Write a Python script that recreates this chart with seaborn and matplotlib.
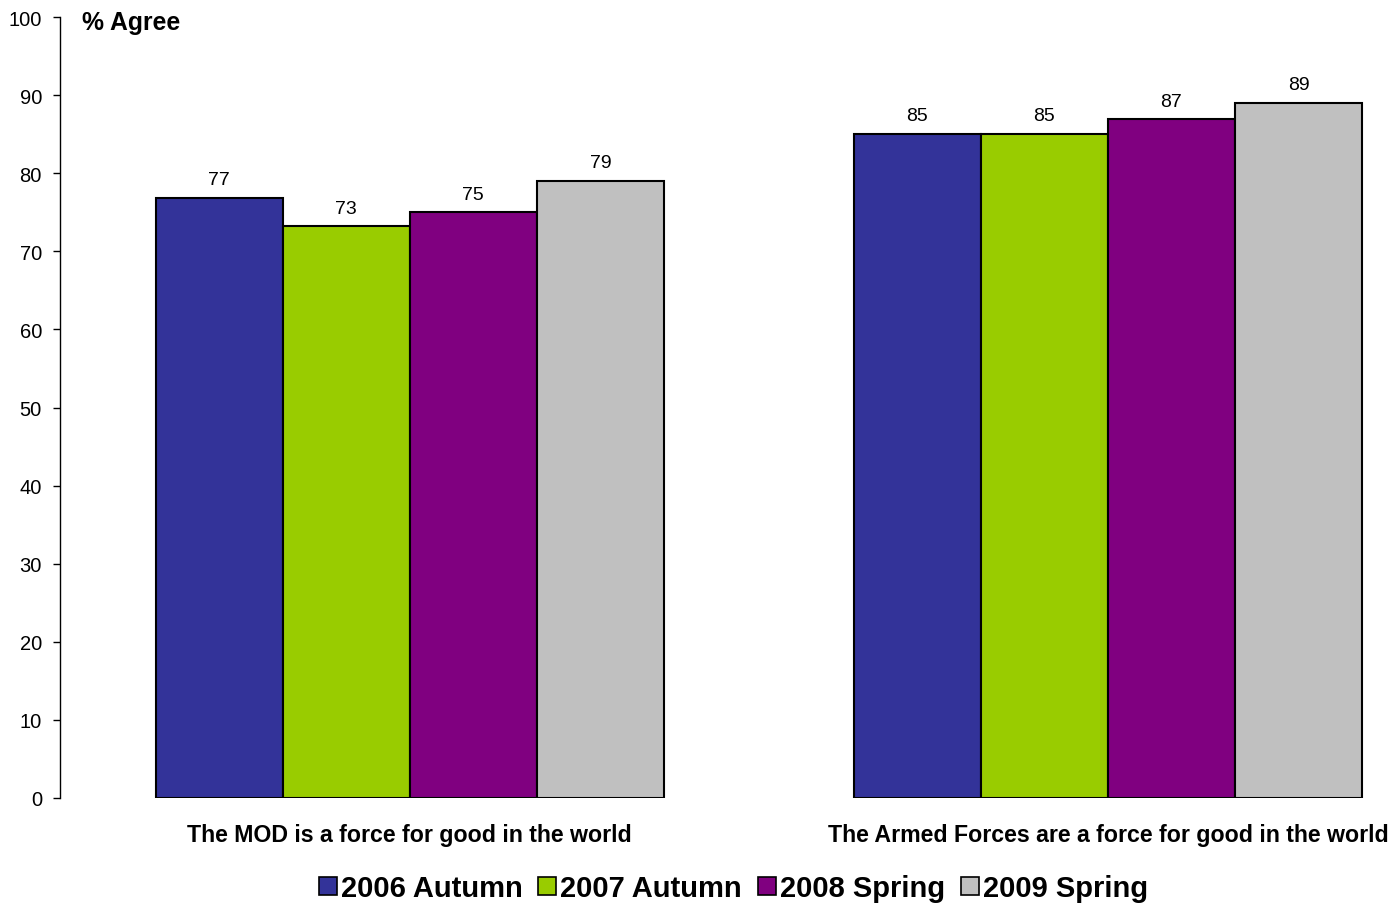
import pandas as pd
import numpy as np
import matplotlib.pyplot as plt
import seaborn as sns

statements = ['The MOD is a force for good in the world',
              'The Armed Forces are a force for good in the world']
waves = ['2006 Autumn', '2007 Autumn', '2008 Spring', '2009 Spring']
mod_agree = [76.8, 73.2, 75.0, 79.0]
forces_agree = [85.0, 85.0, 86.9, 89.0]
colors = ['#333399', '#99CC00', '#800080', '#C0C0C0']

df = pd.DataFrame({
    'statement': np.repeat(statements, len(waves)),
    'wave': waves * 2,
    'agree': mod_agree + forces_agree,
})

sns.set_style('white')
plt.rcParams['font.family'] = ['Liberation Sans', 'DejaVu Sans']
plt.rcParams['text.color'] = 'black'
plt.rcParams['xtick.color'] = 'black'
plt.rcParams['ytick.color'] = 'black'

fig = plt.figure(figsize=(13.97, 9.04), dpi=100)
ax = fig.add_axes([60 / 1397, 1 - 799 / 904, 1 - 60 / 1397, (799 - 18) / 904])

sns.barplot(data=df, x='statement', y='agree', hue='wave', order=statements,
            hue_order=waves, palette=colors, width=0.728, gap=0,
            edgecolor='black', linewidth=1.5, saturation=1, ax=ax)

for c in ax.containers:
    ax.bar_label(c, fmt='%.0f', padding=7, fontsize=14, color='black')

ax.set_ylim(0, 100)
ax.set_yticks(range(0, 101, 10))
ax.set_xlim(-0.501, 1.414)
ax.set_xlabel('')
ax.set_ylabel('')
for s in ['top', 'right', 'bottom']:
    ax.spines[s].set_visible(False)
ax.spines['left'].set_color('black')
ax.spines['left'].set_linewidth(1)
ax.tick_params(axis='y', length=5, width=1, color='black', labelsize=14.5, pad=8, left=True)
ax.tick_params(axis='x', length=0, pad=18)
for t in ax.get_xticklabels():
    t.set_fontsize(16.7)
    t.set_fontweight('bold')

ax.text(0.0165, 99.4, '% Agree', transform=ax.get_yaxis_transform(), fontsize=17.8,
        fontweight='bold', va='center', ha='left')

ax.legend_.remove()
handles = [plt.Line2D([], [], marker='s', linestyle='', markersize=13,
                      markerfacecolor=c, markeredgecolor='black', markeredgewidth=1.2)
           for c in colors]
fig.legend(handles, waves, loc='center', bbox_to_anchor=(0.524, 1 - 889 / 904),
           ncol=4, frameon=False, handletextpad=0.05, columnspacing=0.45,
           handlelength=0.8, prop={'weight': 'bold', 'size': 21})

fig.savefig('out.png', dpi=100)
